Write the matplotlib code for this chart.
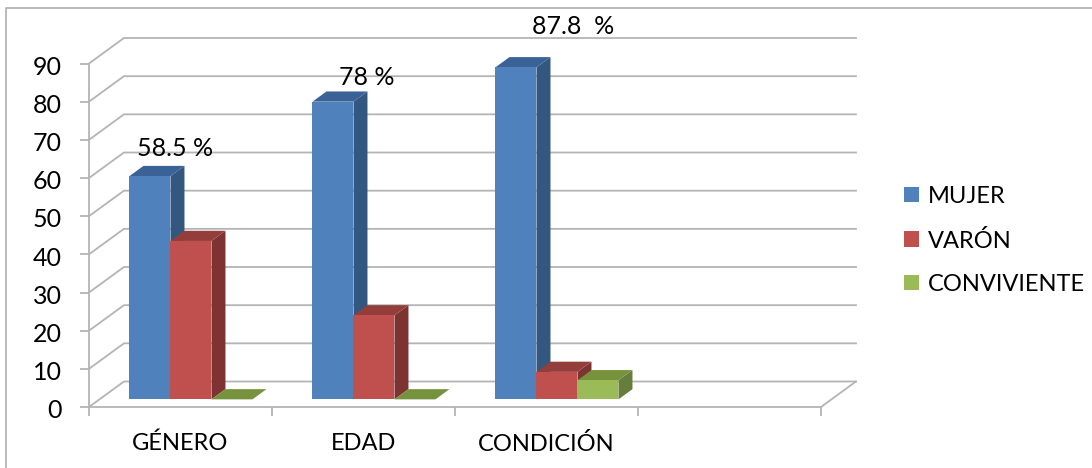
import matplotlib
matplotlib.use("Agg")
import matplotlib.pyplot as plt
from matplotlib.lines import Line2D
from matplotlib.patches import Patch, Polygon
from matplotlib.transforms import ScaledTranslation

plt.rcParams['font.family'] = ['Lato', 'DejaVu Sans']

# Data
categories = ['GÉNERO', 'EDAD', 'CONDICIÓN']
series = ['MUJER', 'VARÓN', 'CONVIVIENTE']
mujer = [58.5, 78, 87]
varon = [41.5, 22, 7.2]
conviviente = [0, 0, 5]
notes = ['58.5 %', '78 %', '87.8  %']
yticks = list(range(0, 100, 10))

# front, side, top colour of each series
colors = [('#4F81BD', '#34577F', '#3A6296'),
          ('#C0504D', '#7D3331', '#943E3B'),
          ('#9BBB59', '#667D3B', '#76923C')]
grid = '#B4B4B4'
text_size = 17
num_size = 18

# Oblique projection: one depth unit = the whole floor depth
DX = 0.191
DY = 6.68
BAR_W = 0.224
BAR_GAP = 0.164
BAR_DEPTH = 0.3
BAR_D = 0.4


def project(x, v, depth):
    return (x + depth * DX, v + depth * DY)


fig = plt.figure(figsize=(10.92, 4.68), dpi=100)
ax = fig.add_axes([89 / 1092, 61 / 468, 732 / 1092, 343.5 / 468])
ax.patch.set_alpha(0)
ax.set_xlim(0, 4)
ax.set_ylim(0, 90)

# Outer frame of the chart
fig.add_artist(Line2D([6 / 1092, 6 / 1092, 1], [0, 460 / 468, 460 / 468], color=grid, lw=1.3))

# Back wall and left side grid
for v in yticks:
    xs, ys = zip(project(0, v, 0), project(0, v, 1), project(4, v, 1))
    ax.plot(xs, ys, color=grid, lw=1.3, clip_on=False, zorder=1)
xs, ys = zip(project(4, 0, 0), project(4, 0, 1))
ax.plot(xs, ys, color=grid, lw=1.3, clip_on=False, zorder=1)


def box(x, v, front, side, top):
    p = [project(x, 0, BAR_DEPTH), project(x + BAR_W, 0, BAR_DEPTH),
         project(x + BAR_W, v, BAR_DEPTH), project(x, v, BAR_DEPTH)]
    q = [project(x, 0, BAR_DEPTH + BAR_D), project(x + BAR_W, 0, BAR_DEPTH + BAR_D),
         project(x + BAR_W, v, BAR_DEPTH + BAR_D), project(x, v, BAR_DEPTH + BAR_D)]
    ax.add_patch(Polygon([p[1], q[1], q[2], p[2]], fc=side, ec='none', clip_on=False, zorder=3))
    ax.add_patch(Polygon([p[3], p[2], q[2], q[3]], fc=top, ec='none', clip_on=False, zorder=3))
    ax.add_patch(Polygon(p, fc=front, ec='none', clip_on=False, zorder=3))


for i in range(len(categories)):
    for j, vals in enumerate([mujer, varon, conviviente]):
        box(i + BAR_GAP + j * BAR_W, vals[i], *colors[j])

# Axes
for s in ['top', 'right']:
    ax.spines[s].set_visible(False)
for s in ['left', 'bottom']:
    ax.spines[s].set_color(grid)
    ax.spines[s].set_linewidth(1.3)
ax.set_yticks(yticks)
ax.set_xticks(range(5))
ax.set_xticklabels([])
ax.set_xticks([i + 0.5 for i in range(3)], categories, minor=True)
ax.tick_params(axis='both', which='major', color=grid, width=1.3, length=6.5, labelcolor='black')
ax.tick_params(axis='y', pad=13, labelsize=num_size)
ax.tick_params(axis='x', which='minor', length=0, labelsize=text_size, pad=18.5)

# y labels sit a little below their ticks
for lab in ax.get_yticklabels():
    lab.set_transform(lab.get_transform() + ScaledTranslation(0, -1.2 / 72, fig.dpi_scale_trans))

# Percentages above the blue bars
note_pos = [(0.47, 67.6), (1.52, 86.3), (2.645, 99.6)]
for (x, y), t in zip(note_pos, notes):
    ax.text(x, y, t, ha='center', va='center', fontsize=num_size, color='black', zorder=5, clip_on=False)

handles = [Patch(fc=c[0], ec='none') for c in colors]
fig.legend(handles, series, loc='center left', bbox_to_anchor=(904 / 1092, 227.5 / 468), frameon=False,
           fontsize=text_size, handlelength=0.63, handleheight=0.63, handletextpad=0.38,
           labelspacing=0.95, borderaxespad=0, borderpad=0)

fig.savefig('out.png', dpi=100)
